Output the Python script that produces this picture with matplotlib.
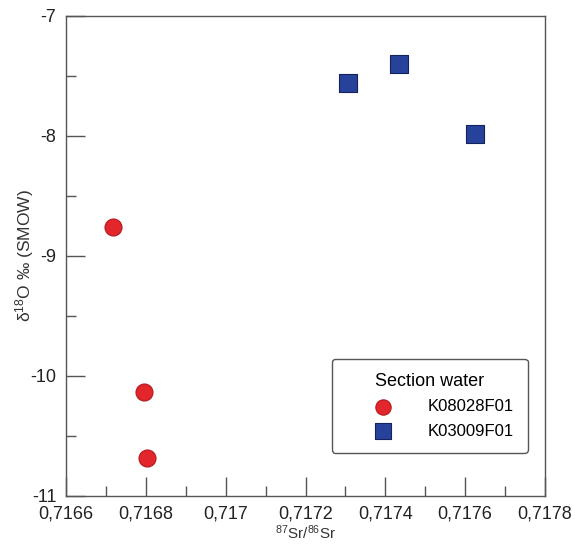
import matplotlib
matplotlib.use("Agg")
import matplotlib.pyplot as plt
from matplotlib.ticker import MultipleLocator, FuncFormatter

plt.rcParams['font.family'] = ['Liberation Sans', 'DejaVu Sans']
plt.rcParams['mathtext.default'] = 'regular'

red_x = [0.716718, 0.716796, 0.716803]
red_y = [-8.758, -10.13, -10.686]
blue_x = [0.7173075, 0.717435, 0.717625]
blue_y = [-7.555, -7.40, -7.986]
series_names = ["K08028F01", "K03009F01"]
legend_title = "Section water"

fig = plt.figure(figsize=(5.75, 5.44), dpi=100)
ax = fig.add_axes([66/575, 1-496/544, (545-66)/575, (496-16)/544])

ax.scatter(red_x, red_y, s=150, marker='o', facecolor='#e3262c', edgecolor='#b01a1f',
           linewidth=0.8, label=series_names[0], zorder=3)
ax.scatter(blue_x, blue_y, s=165, marker='s', facecolor='#27429a', edgecolor='#14235e',
           linewidth=0.8, label=series_names[1], zorder=3)

ax.set_xlim(0.7166, 0.7178)
ax.set_ylim(-11, -7)
ax.xaxis.set_major_locator(MultipleLocator(0.0002))
ax.xaxis.set_minor_locator(MultipleLocator(0.0001))
ax.yaxis.set_major_locator(MultipleLocator(1))
ax.yaxis.set_minor_locator(MultipleLocator(0.5))

def xfmt(v, pos):
    s = ('%.4f' % v).rstrip('0')
    return s.replace('.', ',')
ax.xaxis.set_major_formatter(FuncFormatter(xfmt))
ax.yaxis.set_major_formatter(FuncFormatter(lambda v, p: '%d' % round(v)))

for sp in ax.spines.values():
    sp.set_color('#555555')
    sp.set_linewidth(1.0)
ax.tick_params(which='major', direction='in', length=14, width=1.0, color='#555555',
               labelsize=13, labelcolor='#222222')
ax.tick_params(which='minor', direction='in', length=7, width=1.0, color='#555555')
ax.tick_params(axis='x', which='major', pad=7)
ax.tick_params(axis='y', which='major', pad=7)

ax.set_xlabel('$^{87}$Sr/$^{86}$Sr', fontsize=11, color='#333333', labelpad=0.5)
ax.set_ylabel('δ$^{18}$O ‰ (SMOW)', fontsize=12.5, color='#333333', labelpad=-4)

leg = ax.legend(title=legend_title, loc='upper left', bbox_to_anchor=(0.5547, 0.2854),
                borderaxespad=0, fontsize=12, title_fontsize=13, frameon=True,
                fancybox=True, edgecolor='#555555', borderpad=0.85, handlelength=4.5,
                handletextpad=0.4, labelspacing=0.55, markerscale=0.9)
leg.get_frame().set_linewidth(1.0)
leg.get_frame().set_alpha(1)

fig.savefig('out.png', dpi=100)
